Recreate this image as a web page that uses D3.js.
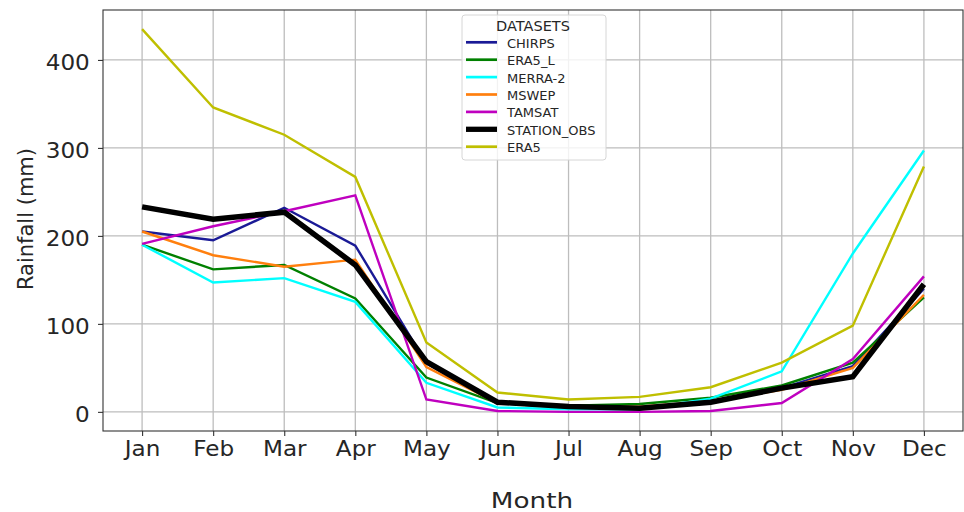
<!DOCTYPE html>
<html>
<head>
<meta charset="utf-8">
<title>Monthly Rainfall</title>
<script src="https://d3js.org/d3.v7.min.js"></script>
<style>
  body, html { margin: 0; padding: 0; background: #fff; }
  svg { display: block; font-family: "DejaVu Sans", sans-serif; }
</style>
</head>
<body>
<svg id="svg" width="964" height="512"></svg>
<script>
const months = ['Jan','Feb','Mar','Apr','May','Jun','Jul','Aug','Sep','Oct','Nov','Dec']
const yTicks = [0, 100, 200, 300, 400]

const chirps     = [205, 195, 232, 189, 55, 10, 5, 4, 12, 27, 52, 140]
const era5L      = [190, 162, 167, 129, 39, 10, 7, 9, 16, 30, 56, 130]
const merra2     = [190, 147, 152, 125, 33, 5, 3, 3, 15, 46, 180, 297]
const mswep      = [205, 178, 165, 173, 51, 10, 6, 6, 12, 25, 50, 133]
const tamsat     = [191, 211, 228, 246, 14, 1, 0, 0, 1, 10, 60, 154]
const stationObs = [233, 219, 227, 167, 57, 11, 6, 4, 11, 27, 40, 145]
const era5       = [435, 346, 315, 267, 79, 22, 14, 17, 28, 56, 98, 279]

const series = [
  { name: 'CHIRPS', values: chirps, color: '#1a1a96', width: 2.4 },
  { name: 'ERA5_L', values: era5L, color: '#008000', width: 2.4 },
  { name: 'MERRA-2', values: merra2, color: '#00ffff', width: 2.4 },
  { name: 'MSWEP', values: mswep, color: '#ff7f0e', width: 2.4 },
  { name: 'TAMSAT', values: tamsat, color: '#bf00bf', width: 2.4 },
  { name: 'STATION_OBS', values: stationObs, color: '#000000', width: 5.5 },
  { name: 'ERA5', values: era5, color: '#bfbf00', width: 2.4 }
]

const svg = d3.select('#svg')
const plotL = 103, plotR = 963, plotT = 10, plotB = 431

const xscale = d3.scaleLinear().domain([-0.55, 11.55]).range([plotL, plotR])
const yscale = d3.scaleLinear().domain([-21.75, 456.75]).range([plotB, plotT])

// grid
svg.append('g').selectAll('line').data(months).join('line')
  .attr('x1', (d, i) => xscale(i)).attr('x2', (d, i) => xscale(i))
  .attr('y1', plotT).attr('y2', plotB)
  .attr('stroke', '#bdbdbd').attr('stroke-width', 1.3)
svg.append('g').selectAll('line').data(yTicks).join('line')
  .attr('x1', plotL).attr('x2', plotR)
  .attr('y1', d => yscale(d)).attr('y2', d => yscale(d))
  .attr('stroke', '#bdbdbd').attr('stroke-width', 1.3)

// axes
const xAxis = d3.axisBottom(xscale).tickValues(d3.range(12))
  .tickFormat(i => months[i]).tickSize(5).tickPadding(5)
const yAxis = d3.axisLeft(yscale).tickValues(yTicks).tickSize(5).tickPadding(7)

const gx = svg.append('g').attr('transform', `translate(0,${plotB})`).call(xAxis)
const gy = svg.append('g').attr('transform', `translate(${plotL},0)`).call(yAxis)
gx.select('.domain').remove()
gy.select('.domain').remove()
;[gx, gy].forEach(g => {
  g.selectAll('text').attr('font-size', 21).attr('fill', '#262626')
    .attr('font-family', '"DejaVu Sans", sans-serif')
    .attr('transform', 'scale(1.1,1)')
  g.selectAll('line').attr('stroke', '#333').attr('stroke-width', 1.1)
})
gy.selectAll('text').attr('dy', '0.45em')

// lines
const linegen = d3.line()
  .x((d, i) => xscale(i))
  .y(d => yscale(d))

svg.append('g').selectAll('path').data(series).join('path')
  .attr('d', d => linegen(d.values))
  .attr('fill', 'none')
  .attr('stroke', d => d.color)
  .attr('stroke-width', d => d.width)
  .attr('stroke-linejoin', 'miter')

// frame
svg.append('rect')
  .attr('x', plotL).attr('y', plotT)
  .attr('width', plotR - plotL).attr('height', plotB - plotT)
  .attr('fill', 'none').attr('stroke', '#333').attr('stroke-width', 1.1)

// labels
svg.append('text')
  .attr('transform', 'translate(33,219) rotate(-90)')
  .attr('text-anchor', 'middle')
  .attr('font-size', 21).attr('fill', '#262626')
  .text('Rainfall (mm)')

svg.append('text')
  .attr('transform', 'translate(532,508) scale(1.25,1)')
  .attr('text-anchor', 'middle')
  .attr('font-size', 21).attr('fill', '#262626')
  .text('Month')

// legend
const lg = svg.append('g').attr('transform', 'translate(462,15)')
lg.append('rect')
  .attr('width', 144).attr('height', 145).attr('rx', 3)
  .attr('fill', 'rgba(255,255,255,0.8)').attr('stroke', '#d6d6d6')
lg.append('text')
  .attr('x', 71).attr('y', 16.3)
  .attr('text-anchor', 'middle')
  .attr('font-size', 14.5).attr('fill', '#262626')
  .text('DATASETS')
const items = lg.selectAll('g.item').data(series).join('g')
  .attr('class', 'item')
  .attr('transform', (d, i) => `translate(0,${27.3 + i * 17.4})`)
items.append('line')
  .attr('x1', 4).attr('x2', 35)
  .attr('stroke', d => d.color)
  .attr('stroke-width', d => d.width === 5.5 ? 5.3 : 2.7)
items.append('text')
  .attr('x', 45).attr('y', 5.5)
  .attr('font-size', 13).attr('fill', '#262626')
  .text(d => d.name)
</script>
</body>
</html>
